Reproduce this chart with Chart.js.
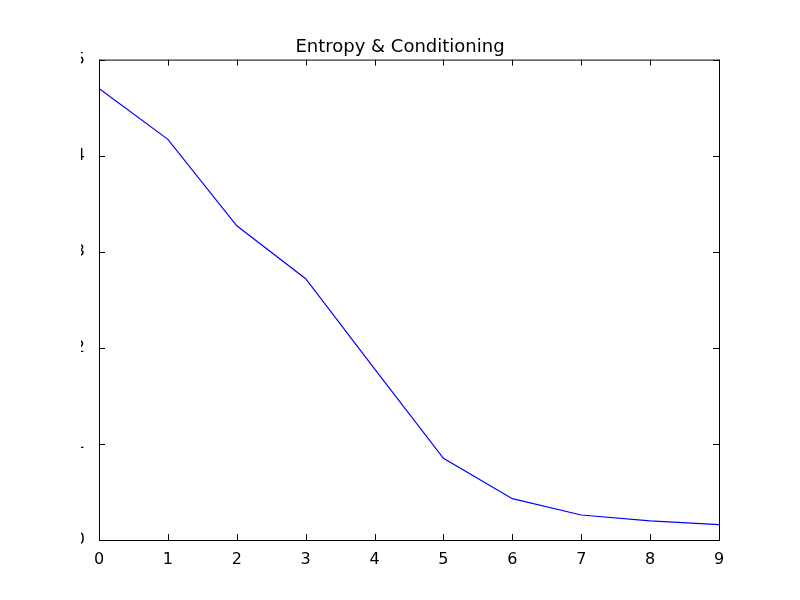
<!DOCTYPE html>
<html>
<head>
<meta charset="utf-8">
<script src="https://cdn.jsdelivr.net/npm/chart.js@4"></script>
<style>
  body { margin: 0; background: #fff; }
  #wrap { width: 800px; height: 600px; }
</style>
</head>
<body>
<div id="wrap"><canvas id="entropyChart"></canvas></div>
<script>
// Data
const steps = [0, 1, 2, 3, 4, 5, 6, 7, 8, 9];
const entropy = [4.70, 4.17, 3.27, 2.72, 1.78, 0.85, 0.43, 0.26, 0.20, 0.16];
const titleText = 'Entropy & Conditioning';

// matplotlib-style frame with inward ticks on all four sides
const frameTicks = {
  id: 'frameTicks',
  afterDraw(chart) {
    const { ctx, chartArea: a, scales } = chart;
    ctx.save();
    ctx.strokeStyle = '#000';
    ctx.lineWidth = 1;
    ctx.strokeRect(a.left + 0.5, a.top + 0.5, a.right - a.left, a.bottom - a.top);
    ctx.beginPath();
    for (let v = 0; v <= 9; v++) {
      const x = Math.round(scales.x.getPixelForValue(v)) + 0.5;
      ctx.moveTo(x, a.bottom); ctx.lineTo(x, a.bottom - 6);
      ctx.moveTo(x, a.top); ctx.lineTo(x, a.top + 6);
    }
    for (let v = 0; v <= 5; v++) {
      const y = Math.round(scales.y.getPixelForValue(v)) + 0.5;
      ctx.moveTo(a.left, y); ctx.lineTo(a.left + 6, y);
      ctx.moveTo(a.right, y); ctx.lineTo(a.right - 6, y);
    }
    ctx.stroke();
    ctx.restore();
  }
};

const ctx = document.getElementById('entropyChart').getContext('2d');
new Chart(ctx, {
  type: 'line',
  data: {
    datasets: [{
      data: steps.map((s, i) => ({ x: s, y: entropy[i] })),
      borderColor: '#0000ff',
      borderWidth: 1.2,
      pointRadius: 0,
      tension: 0,
      fill: false
    }]
  },
  options: {
    responsive: true,
    maintainAspectRatio: false,
    animation: false,
    layout: { padding: { left: 81, right: 81, top: 0, bottom: 0 } },
    plugins: {
      legend: { display: false },
      tooltip: { enabled: false },
      title: {
        display: true,
        text: titleText,
        color: '#000',
        font: { family: 'DejaVu Sans', size: 18, weight: 'normal' },
        padding: { top: 37, bottom: 1 }
      }
    },
    scales: {
      x: {
        type: 'linear',
        min: 0,
        max: 9,
        grid: { display: false },
        border: { display: false },
        afterFit(s) { s.height = 60; },
        ticks: {
          stepSize: 1,
          color: '#000',
          padding: 2,
          font: { family: 'DejaVu Sans', size: 16 }
        }
      },
      y: {
        min: 0,
        max: 5,
        grid: { display: false },
        border: { display: false },
        afterFit(s) { s.width = 18; },
        ticks: {
          stepSize: 1,
          color: '#000',
          padding: 6,
          font: { family: 'DejaVu Sans', size: 16 }
        }
      }
    }
  },
  plugins: [frameTicks]
});
</script>
</body>
</html>
